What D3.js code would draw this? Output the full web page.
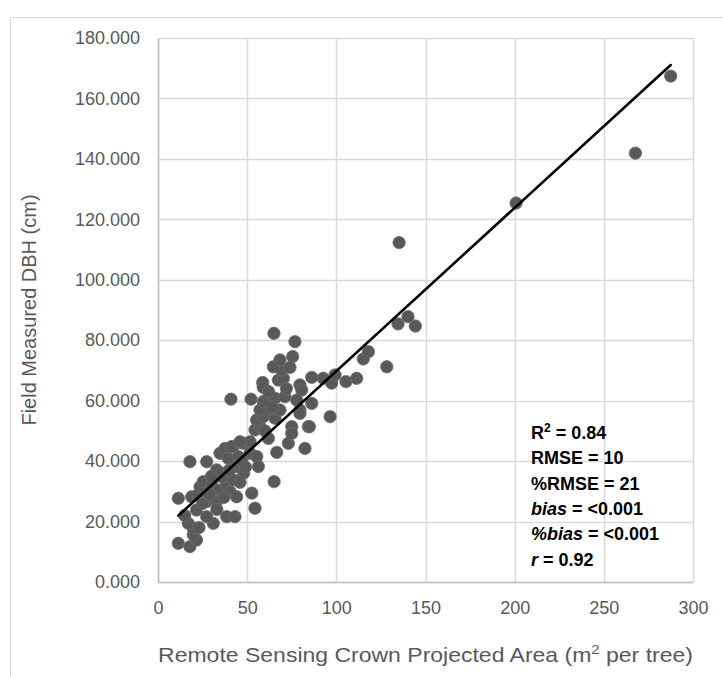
<!DOCTYPE html>
<html>
<head>
<meta charset="utf-8">
<script src="https://cdn.jsdelivr.net/npm/d3@7"></script>
<style>
  html, body { margin: 0; padding: 0; background: #fff; }
  svg { display: block; }
</style>
</head>
<body>
<svg id="chart" width="723" height="677"></svg>
<script>
// ---- data ----
const crownArea = [
  11.4, 17.9, 21.6, 19.8, 19.8, 17.0, 21.6, 31.0, 27.3, 38.5, 43.2, 11.4, 18.9, 22.5, 27.3, 32.9,
  23.6, 25.4, 30.1, 34.8, 38.5, 40.4, 44.1, 42.2, 35.7, 32.9, 43.2, 52.6, 54.4, 65.1, 17.9, 27.3,
  34.8, 37.6, 42.2, 47.8, 51.6, 39.4, 45.0, 51.6, 55.4, 56.3, 41.3, 46.0, 66.6, 73.1, 82.4, 84.3,
  75.0, 75.0, 15.0, 23.0, 25.0, 33.0, 37.0, 48.0, 30.0, 46.0, 36.0, 40.0, 47.0, 49.0, 29.0,
  61.9, 54.4, 57.2, 55.3, 59.1, 65.6, 57.2, 62.8, 68.4, 59.1, 65.6, 71.2, 77.8, 86.2, 79.6, 79.6,
  96.5, 84.9, 40.9, 52.2, 58.7, 59.0, 67.5, 70.3, 69.3, 64.7, 68.4, 75.5, 65.0, 76.8, 79.6, 80.6,
  86.2, 92.7, 97.4, 99.3, 105.4, 111.4, 62.0, 72.0, 74.0, 64.0, 60.0,
  115.1, 118.0, 128.3, 134.6, 140.2, 144.3, 135.2, 200.8, 267.7, 287.5
];
const fieldDBH = [
  12.8, 11.7, 13.9, 15.6, 17.8, 19.4, 23.8, 19.4, 21.6, 21.6, 21.6, 27.7, 28.2, 28.8, 26.6, 26.6,
  31.5, 33.2, 32.1, 30.4, 32.1, 29.9, 28.2, 33.8, 34.8, 37.1, 38.2, 29.4, 24.4, 33.2, 39.8, 39.8,
  42.6, 44.2, 44.8, 45.9, 46.4, 40.9, 41.5, 42.6, 41.5, 38.2, 44.8, 46.4, 42.9, 45.9, 44.2, 51.4,
  51.4, 49.2, 22.0, 18.0, 26.0, 24.0, 28.0, 36.0, 35.0, 33.0, 36.0, 37.0, 40.0, 38.0, 29.0,
  47.5, 50.3, 51.4, 53.6, 54.7, 54.2, 56.9, 57.5, 56.9, 59.7, 60.8, 61.3, 60.2, 59.1, 56.9, 55.8,
  54.7, 51.4, 60.5, 60.5, 66.0, 64.4, 66.8, 67.4, 70.2, 71.2, 73.5, 74.6, 82.3, 79.5, 65.2, 63.5,
  67.7, 67.4, 65.8, 68.5, 66.3, 67.4, 63.0, 64.0, 71.0, 58.0, 50.0,
  73.8, 76.2, 71.2, 85.4, 87.8, 84.7, 112.3, 125.4, 141.9, 167.4
];
// linear trendline (fitted, as shown in the reference)
const trendSlope = 0.54;
const trendIntercept = 15.8;
const xTicks = [0, 50, 100, 150, 200, 250, 300];
const yTicks = [0, 20, 40, 60, 80, 100, 120, 140, 160, 180];
const statsLines = [
  [{t: "R", i: false}, {t: "2", sup: true}, {t: " = 0.84"}],
  [{t: "RMSE = 10"}],
  [{t: "%RMSE = 21"}],
  [{t: "bias", i: true}, {t: " = <0.001"}],
  [{t: "%bias", i: true}, {t: " = <0.001"}],
  [{t: "r", i: true}, {t: " = 0.92"}]
];

// ---- drawing ----
const svg = d3.select("#chart");
const x = d3.scaleLinear().domain([0, 300]).range([158, 693]);
const y = d3.scaleLinear().domain([0, 180]).range([582, 38]);
const tf = "'Liberation Sans', Arial, sans-serif";

// outer chart border (top & left visible)
svg.append("path")
  .attr("d", "M10.5,700 V17.5 H740")
  .attr("fill", "none").attr("stroke", "#d9d9d9").attr("stroke-width", 1);

// gridlines
svg.append("g").selectAll("line.h").data(yTicks).join("line")
  .attr("x1", x(0)).attr("x2", x(300))
  .attr("y1", d => Math.round(y(d)) + 0.5).attr("y2", d => Math.round(y(d)) + 0.5)
  .attr("stroke", "#d9d9d9").attr("stroke-width", 1.5);
svg.append("g").selectAll("line.v").data(xTicks).join("line")
  .attr("y1", y(0)).attr("y2", y(180))
  .attr("x1", d => Math.round(x(d)) + 0.5).attr("x2", d => Math.round(x(d)) + 0.5)
  .attr("stroke", "#d9d9d9").attr("stroke-width", 1.5);

// axes via d3 (no ticks, only labels)
const xAxis = d3.axisBottom(x).tickValues(xTicks).tickSize(0).tickPadding(19).tickFormat(d3.format("d"));
const gx = svg.append("g").attr("transform", `translate(0,${y(0)})`).call(xAxis);
gx.select(".domain").attr("stroke", "#bfbfbf").attr("stroke-width", 1.5);
gx.selectAll("text").attr("fill", "#595959").attr("font-size", 18).attr("font-family", tf);

const yAxis = d3.axisLeft(y).tickValues(yTicks).tickSize(0).tickPadding(18).tickFormat(d3.format(".3f"));
const gy = svg.append("g").attr("transform", `translate(${x(0)},0)`).call(yAxis);
gy.select(".domain").attr("stroke", "#bfbfbf").attr("stroke-width", 1.5);
gy.selectAll("text").attr("fill", "#595959").attr("font-size", 18).attr("font-family", tf);

// points
svg.append("g").selectAll("circle").data(crownArea.map((v, i) => [v, fieldDBH[i]])).join("circle")
  .attr("cx", d => x(d[0])).attr("cy", d => y(d[1])).attr("r", 6.2)
  .attr("fill", "#595959").attr("stroke", "#6e6e6e").attr("stroke-width", 0.8);

// trendline over data range
const xmin = d3.min(crownArea), xmax = d3.max(crownArea);
svg.append("line")
  .attr("x1", x(xmin)).attr("y1", y(trendSlope * xmin + trendIntercept))
  .attr("x2", x(xmax)).attr("y2", y(trendSlope * xmax + trendIntercept))
  .attr("stroke", "#000").attr("stroke-width", 2.6).attr("stroke-linecap", "round");

// stats annotation
const st = svg.append("g").attr("font-family", tf)
  .attr("font-weight", "bold").attr("font-size", 18).attr("fill", "#000");
statsLines.forEach((parts, k) => {
  const t = st.append("text").attr("x", 531).attr("y", 439 + k * 25.3);
  parts.forEach(p => {
    const ts = t.append("tspan").text(p.t);
    if (p.i) ts.attr("font-style", "italic");
    if (p.sup) ts.attr("font-size", 12).attr("dy", -7);
    else if (parts.some(q => q.sup) && p !== parts[0]) ts.attr("dy", 7);
  });
});

// axis titles
const xtCx = (x(0) + x(300)) / 2;
const xt = svg.append("text")
  .attr("transform", `translate(${xtCx},662) scale(1.15,1)`)
  .attr("text-anchor", "middle").attr("font-family", tf).attr("font-size", 20).attr("fill", "#595959");
xt.append("tspan").text("Remote Sensing Crown Projected Area (m");
xt.append("tspan").text("2").attr("font-size", 13).attr("dy", -8);
xt.append("tspan").text(" per tree)").attr("dy", 8);

svg.append("text").attr("transform", `translate(36,${(y(0) + y(180)) / 2}) rotate(-90)`)
  .attr("text-anchor", "middle").attr("font-family", tf).attr("font-size", 20).attr("fill", "#595959")
  .text("Field Measured DBH (cm)");
</script>
</body>
</html>
